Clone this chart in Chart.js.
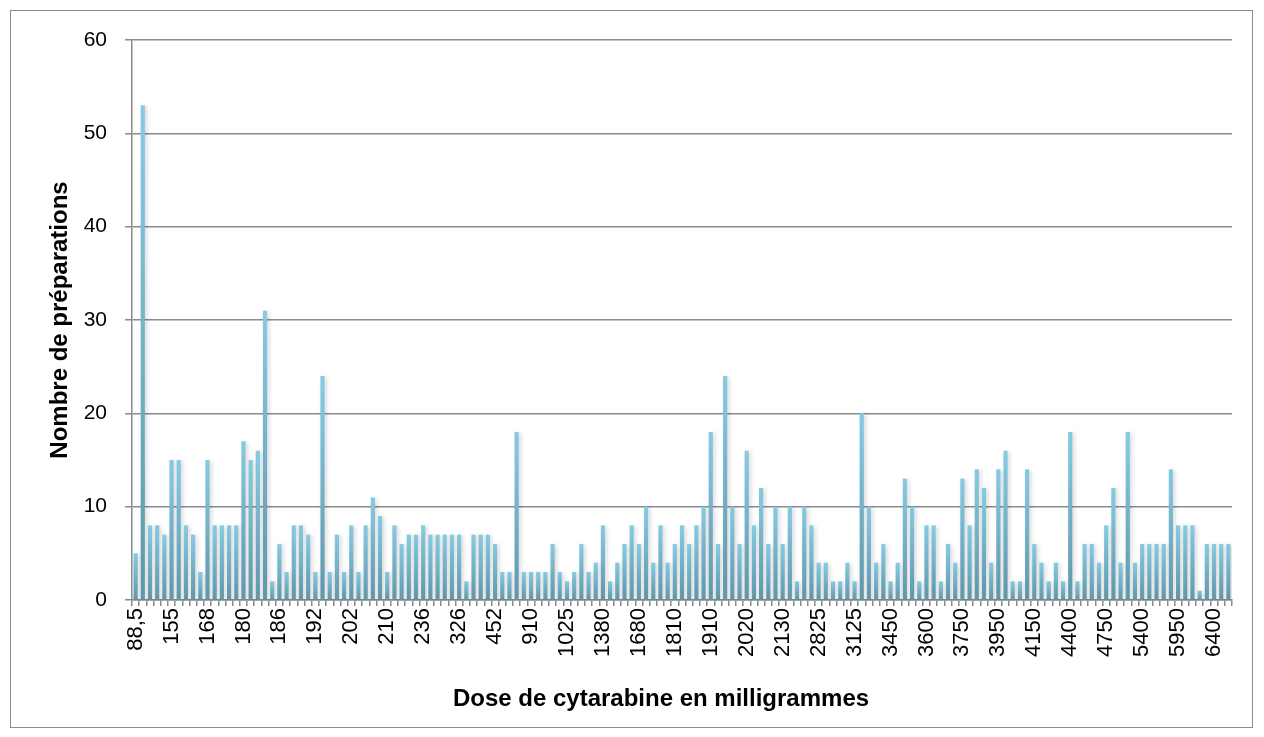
<!DOCTYPE html>
<html>
<head>
<meta charset="utf-8">
<title>Doses de cytarabine</title>
<script src="https://cdn.jsdelivr.net/npm/chart.js@4.4.1/dist/chart.umd.min.js"></script>
<style>
  html, body { margin: 0; padding: 0; background: #fff; }
  #wrap { width: 1264px; height: 737px; position: relative; }
</style>
</head>
<body>
<div id="wrap"><canvas id="doseChart" width="1264" height="737"></canvas></div>
<script>
/* ── data ── */
// dose labels shown on the axis (one every 5 categories)
const tickLabels = ['88,5','155','168','180','186','192','202','210','236','326','452','910','1025','1380','1680','1810',
  '1910','2020','2130','2825','3125','3450','3600','3750','3950','4150','4400','4750','5400','5950','6400'];
const labelStep = 5;
// number of preparations per dose (153 doses)
const counts = [
  5,53,8,8,7,15,15,8,7,3, 15,8,8,8,8,17,15,16,31,2,
  6,3,8,8,7,3,24,3,7,3, 8,3,8,11,9,3,8,6,7,7,
  8,7,7,7,7,7,2,7,7,7, 6,3,3,18,3,3,3,3,6,3,
  2,3,6,3,4,8,2,4,6,8, 6,10,4,8,4,6,8,6,8,10,
  18,6,24,10,6,16,8,12,6,10, 6,10,2,10,8,4,4,2,2,4,
  2,20,10,4,6,2,4,13,10,2, 8,8,2,6,4,13,8,14,12,4,
  14,16,2,2,14,6,4,2,4,2, 18,2,6,6,4,8,12,4,18,4,
  6,6,6,6,14,8,8,8,1,6, 6,6,6
];
const categories = counts.map(function (_, i) { return i % labelStep === 0 ? tickLabels[i / labelStep] : ''; });

const yMin = 0, yMax = 60, yStep = 10;
const xTitle = 'Dose de cytarabine en milligrammes';
const yTitle = 'Nombre de préparations';

/* ── look ── */
const FONT = "'Liberation Sans', Arial, sans-serif";
const GRID = '#8a8a8a';

// outer frame of the chart object + x title (Excel centres it a bit left of the plot)
const framePlugin = {
  id: 'frame',
  beforeDraw: function (chart) {
    const c = chart.ctx;
    c.save();
    c.fillStyle = '#fff';
    c.fillRect(0, 0, chart.width, chart.height);
    c.strokeStyle = '#8c8c8c';
    c.lineWidth = 1;
    c.strokeRect(10.5, 10.5, 1242, 717);
    c.restore();
  },
  afterDraw: function (chart) {
    const c = chart.ctx;
    c.save();
    c.fillStyle = '#000';
    c.font = 'bold 24px ' + FONT;
    c.textAlign = 'center';
    c.textBaseline = 'middle';
    c.fillText(xTitle, 661, 699);
    c.restore();
  }
};

// light drop shadow behind the bars
const shadowPlugin = {
  id: 'barShadow',
  beforeDatasetsDraw: function (chart) {
    const c = chart.ctx;
    c.save();
    c.shadowColor = 'rgba(0,0,0,0.16)';
    c.shadowBlur = 4;
    c.shadowOffsetX = 2;
    c.shadowOffsetY = 1;
  },
  afterDatasetsDraw: function (chart) { chart.ctx.restore(); }
};

// every bar has its own vertical gradient, light at the top and darker at the base
function barFill(ctx) {
  const chart = ctx.chart, y = chart.scales.y;
  if (!y || ctx.raw == null) return '#79bcd4';
  const top = y.getPixelForValue(ctx.raw), base = y.getPixelForValue(0);
  if (!isFinite(top) || base - top < 1) return '#79bcd4';
  const g = chart.ctx.createLinearGradient(0, top, 0, base);
  g.addColorStop(0, '#86cbe3');
  g.addColorStop(1, '#5f97ab');
  return g;
}

new Chart(document.getElementById('doseChart'), {
  type: 'bar',
  data: {
    labels: categories,
    datasets: [{
      label: yTitle,
      data: counts,
      backgroundColor: barFill,
      borderWidth: 0,
      categoryPercentage: 1,
      barPercentage: 0.58
    }]
  },
  options: {
    responsive: false,
    animation: false,
    layout: { padding: { left: 46, right: 32, top: 40, bottom: 18 } },
    plugins: { legend: { display: false }, tooltip: { enabled: false } },
    scales: {
      x: {
        offset: true,
        grid: { display: true, drawOnChartArea: false, drawTicks: true, tickLength: 6, color: GRID, lineWidth: 1.5, offset: true },
        border: { display: true, color: GRID, width: 1.5 },
        ticks: {
          autoSkip: false, minRotation: 90, maxRotation: 90, padding: 2,
          color: '#000', font: { family: FONT, size: 22 },
          callback: function (v, i) { return categories[i]; }
        },
        title: { display: false },
        afterFit: function (s) { s.height = 119; }
      },
      y: {
        min: yMin, max: yMax,
        grid: { color: GRID, lineWidth: 1.5, tickLength: 7, drawTicks: true },
        border: { display: true, color: GRID, width: 1.5 },
        ticks: { stepSize: yStep, padding: 18, color: '#000', font: { family: FONT, size: 21 } },
        title: { display: true, text: yTitle, color: '#000', font: { family: FONT, size: 24, weight: 'bold' }, padding: { top: 0, bottom: 0 } },
        afterFit: function (s) { s.width = 86; }
      }
    }
  },
  plugins: [framePlugin, shadowPlugin]
});
</script>
</body>
</html>
